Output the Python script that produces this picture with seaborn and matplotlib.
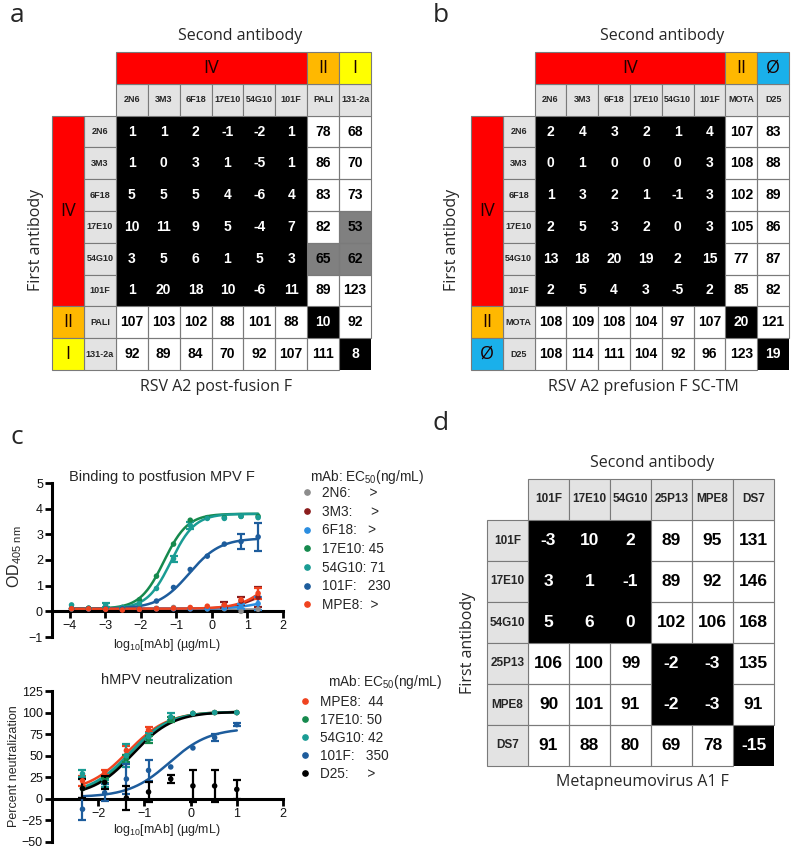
import numpy as np
import pandas as pd
import seaborn as sns
import matplotlib.pyplot as plt
from matplotlib.colors import ListedColormap, BoundaryNorm
from matplotlib.patches import Rectangle
from matplotlib.lines import Line2D

# ---------------- data ----------------
# a: competition on RSV A2 post-fusion F (% binding of second antibody)
a_abs = ['2N6', '3M3', '6F18', '17E10', '54G10', '101F', 'PALI', '131-2a']
a_vals = [[1, 1, 2, -1, -2, 1, 78, 68],
          [1, 0, 3, 1, -5, 1, 86, 70],
          [5, 5, 5, 4, -6, 4, 83, 73],
          [10, 11, 9, 5, -4, 7, 82, 53],
          [3, 5, 6, 1, 5, 3, 65, 62],
          [1, 20, 18, 10, -6, 11, 89, 123],
          [107, 103, 102, 88, 101, 88, 10, 92],
          [92, 89, 84, 70, 92, 107, 111, 8]]
a_sites = [('IV', 0, 6, '#ff0000'), ('II', 6, 7, '#ffb800'), ('I', 7, 8, '#ffff00')]

# b: competition on RSV A2 prefusion F SC-TM
b_abs = ['2N6', '3M3', '6F18', '17E10', '54G10', '101F', 'MOTA', 'D25']
b_vals = [[2, 4, 3, 2, 1, 4, 107, 83],
          [0, 1, 0, 0, 0, 3, 108, 88],
          [1, 3, 2, 1, -1, 3, 102, 89],
          [2, 5, 3, 2, 0, 3, 105, 86],
          [13, 18, 20, 19, 2, 15, 77, 87],
          [2, 5, 4, 3, -5, 2, 85, 82],
          [108, 109, 108, 104, 97, 107, 20, 121],
          [108, 114, 111, 104, 92, 96, 123, 19]]
b_sites = [('IV', 0, 6, '#ff0000'), ('II', 6, 7, '#ffb800'), ('Ø', 7, 8, '#1ab0ea')]

# d: competition on metapneumovirus A1 F
d_abs = ['101F', '17E10', '54G10', '25P13', 'MPE8', 'DS7']
d_vals = [[-3, 10, 2, 89, 95, 131],
          [3, 1, -1, 89, 92, 146],
          [5, 6, 0, 102, 106, 168],
          [106, 100, 99, -2, -3, 135],
          [90, 101, 91, -2, -3, 91],
          [91, 88, 80, 69, 78, -15]]

# c (top): binding to postfusion MPV F, OD405
od_logc = [-3.95, -3.47, -2.99, -2.52, -2.04, -1.56, -1.08, -0.61, -0.13, 0.35, 0.82, 1.30]
od_2n6 = [0.12, 0.12, 0.10, 0.10, 0.10, 0.12, 0.15, 0.10, 0.10, 0.10, 0.00, 0.08]
od_3m3 = [0.10, 0.10, 0.10, 0.08, 0.08, 0.10, 0.10, 0.10, 0.12, 0.25, 0.40, 0.55]
od_6f18 = [0.10, 0.10, 0.10, 0.08, 0.08, 0.10, 0.10, 0.10, 0.10, 0.12, 0.18, 0.30]
od_17e10 = [0.10, 0.12, 0.12, 0.15, 0.45, 1.37, 2.62, 3.55, 3.65, 3.65, 3.70, 3.70]
od_54g10 = [0.25, 0.12, 0.25, 0.15, 0.30, 0.89, 2.05, 3.35, 3.62, 3.62, 3.70, 3.65]
od_101f = [0.10, 0.10, 0.10, 0.10, 0.10, 0.40, 0.93, 1.63, 2.15, 2.62, 2.72, 2.90]
od_mpe8 = [0.10, 0.10, 0.08, 0.05, 0.08, 0.10, 0.12, 0.15, 0.20, 0.25, 0.45, 0.70]
od_err_3m3 = [0, 0, 0, 0, 0, 0, 0, 0, 0, 0.12, 0.15, 0.40]
od_err_6f18 = [0, 0, 0, 0, 0, 0, 0, 0, 0, 0, 0.10, 0.25]
od_err_54g10 = [0, 0, 0.08, 0, 0, 0, 0.12, 0.15, 0, 0, 0, 0]
od_err_101f = [0, 0, 0, 0, 0, 0, 0, 0, 0, 0, 0.30, 0.55]
od_err_mpe8 = [0, 0, 0, 0, 0, 0, 0, 0, 0, 0, 0, 0.20]
bind_mabs = ['2N6', '3M3', '6F18', '17E10', '54G10', '101F', 'MPE8']
bind_ec50 = ['>', '>', '>', '45', '71', '230', '>']
# four-parameter logistic fits: bottom, top, logEC50, hill
bind_bottom = [0.10, 0.10, 0.10, 0.10, 0.10, 0.10, 0.10]
bind_top = [0.10, 1.00, 0.60, 3.80, 3.80, 2.85, 2.50]
bind_logec50 = [0.0, 1.30, 1.50, -1.35, -1.15, -0.64, 1.80]
bind_hill = [1.0, 1.2, 1.0, 1.3, 1.3, 1.0, 1.0]

# c (bottom): hMPV neutralization, %
neut_logc = [-2.34, -1.86, -1.39, -0.91, -0.43, 0.05, 0.52, 1.00]
neut_mpe8 = [21, 31, 56, 80, 93, 99, 100, 100]
neut_17e10 = [12, 21, 47, 69, 92, 99, 100, 100]
neut_54g10 = [29, 18, 50, 72, 95, 99, 100, 100]
neut_101f = [-12, 7, 23, 33, 37, 59, 71, 86]
neut_d25 = [12, 19, 1, 8, 23, 15, 15, 11]
neut_err_mpe8 = [6, 3, 5, 3, 0, 0, 0, 0]
neut_err_17e10 = [0, 3, 4, 4, 3, 0, 0, 0]
neut_err_54g10 = [4, 4, 13, 4, 4, 0, 0, 0]
neut_err_101f = [13, 10, 17, 12, 0, 0, 4, 2]
neut_err_d25 = [11, 8, 14, 12, 5, 19, 19, 11]
neut_mabs = ['MPE8', '17E10', '54G10', '101F', 'D25']
neut_ec50 = ['44', '50', '42', '350', '>']
neut_bottom = [8, 5, 5, 2, 3]
neut_top = [101, 101, 101, 82, 101]
neut_logec50 = [-1.36, -1.30, -1.32, -0.46, -1.25]
neut_hill = [1.0, 1.05, 1.0, 1.0, 1.0]

mab_colors = {'2N6': '#8c8c8c', '3M3': '#8b1c1c', '6F18': '#2a8de0', '17E10': '#15894d',
              '54G10': '#1a9c94', '101F': '#1d5c9c', 'MPE8': '#f0431f', 'D25': '#000000'}

# ---------------- style ----------------
sns.set_theme(style='ticks')
plt.rcParams['font.family'] = ['Liberation Sans', 'DejaVu Sans']
plt.rcParams['mathtext.fontset'] = 'custom'
plt.rcParams['mathtext.rm'] = 'Liberation Sans'
plt.rcParams['mathtext.it'] = 'Liberation Sans:italic'

W, H = 792, 849
fig = plt.figure(figsize=(W / 100, H / 100), dpi=100)
fig.patch.set_facecolor('white')

HEAD = '#e3e3e3'
EDGE = '#7a7a7a'
HEADFONT = ['Open Sans', 'DejaVu Sans']
comp_cmap = ListedColormap(['#000000', '#808080', '#ffffff'])
comp_norm = BoundaryNorm([-1000, 33.5, 66.5, 1000], 3)


def px_axes(x0, y0, x1, y1):
    return fig.add_axes([x0 / W, 1 - y1 / H, (x1 - x0) / W, (y1 - y0) / H])


def fig_text(x, y, s, **kw):
    fig.text(x / W, 1 - y / H, s, **kw)


def draw_matrix(ax, abs_names, vals, sites, num_size, lab_size):
    df = pd.DataFrame(vals, index=abs_names, columns=abs_names)
    sns.heatmap(df, ax=ax, cmap=comp_cmap, norm=comp_norm, cbar=False, annot=True, fmt='d',
                annot_kws=dict(fontsize=num_size, fontweight='bold', family='Liberation Sans'),
                xticklabels=False, yticklabels=False, linewidths=0)
    nr, nc = df.shape
    for t in ax.texts:
        t.set_color('white' if int(t.get_text()) < 33.5 else 'black')
    for i in range(nr):
        for j in range(nc):
            if df.iat[i, j] >= 33.5:
                ax.add_patch(Rectangle((j, i), 1, 1, fill=False, ec=EDGE, lw=0.8, clip_on=False))
    for k, name in enumerate(abs_names):
        ax.add_patch(Rectangle((k, -1), 1, 1, fc=HEAD, ec=EDGE, lw=0.8, clip_on=False))
        ax.add_patch(Rectangle((-1, k), 1, 1, fc=HEAD, ec=EDGE, lw=0.8, clip_on=False))
        ax.text(k + 0.5, -0.5, name, ha='center', va='center', fontsize=lab_size, fontweight='bold')
        ax.text(-0.5, k + 0.5, name, ha='center', va='center', fontsize=lab_size, fontweight='bold')
    lo = -1
    if sites is not None:
        lo = -2
        for name, s, e, color in sites:
            ax.add_patch(Rectangle((s, -2), e - s, 1, fc=color, ec=EDGE, lw=0.8, clip_on=False))
            ax.add_patch(Rectangle((-2, s), 1, e - s, fc=color, ec=EDGE, lw=0.8, clip_on=False))
            ax.text((s + e) / 2, -1.5, name, ha='center', va='center', fontsize=13,
                    family=HEADFONT, color='#1a0000')
            ax.text(-1.5, (s + e) / 2, name, ha='center', va='center', fontsize=13,
                    family=HEADFONT, color='#1a0000')
    ax.set_xlim(lo, nc)
    ax.set_ylim(nr, lo)
    ax.axis('off')


def logistic(x, bottom, top, logec, hill):
    return bottom + (top - bottom) / (1 + 10 ** ((logec - x) * hill))


def prism_axes(ax, xlim, ylim, xticks, yticks):
    ax.set_xlim(*xlim)
    ax.set_ylim(*ylim)
    for s in ['top', 'right']:
        ax.spines[s].set_visible(False)
    ax.spines['bottom'].set_position(('data', 0))
    for s in ['left', 'bottom']:
        ax.spines[s].set_linewidth(2.2)
        ax.spines[s].set_color('black')
    ax.set_xticks(xticks)
    ax.set_yticks(yticks)
    ax.tick_params(width=2, length=5, color='black', labelsize=9, pad=1.5, labelcolor='#111111')
    ax.set_xlabel('')
    ax.set_ylabel('')


def ec50_label(name, ec):
    widths = {'M': .833, 'N': .722, 'E': .667, 'F': .611, 'G': .778, 'P': .667, 'D': .722, ':': .278}
    w = sum(widths.get(ch, .556) for ch in name + ':')
    n = max(1, round((3.5 - w) / 0.278))
    return name + ':' + ' ' * n + ec


def dose_panel(ax, logc, series, errs, mabs, fits, xr):
    pts = pd.DataFrame({'logc': np.tile(logc, len(mabs)),
                        'val': np.concatenate([series[m] for m in mabs]),
                        'mab': np.repeat(mabs, len(logc))})
    xs = np.linspace(xr[0], xr[1], 200)
    curves = pd.DataFrame({'logc': np.tile(xs, len(mabs)),
                           'val': np.concatenate([logistic(xs, *fits[m]) for m in mabs]),
                           'mab': np.repeat(mabs, len(xs))})
    sns.lineplot(data=curves, x='logc', y='val', hue='mab', hue_order=mabs, palette=mab_colors,
                 legend=False, ax=ax, lw=1.8)
    for m in mabs:
        if m in errs:
            e = np.array(errs[m], dtype=float)
            keep = e > 0
            ax.errorbar(np.array(logc)[keep], np.array(series[m])[keep], yerr=e[keep], fmt='none',
                        ecolor=mab_colors[m], elinewidth=1.6, capsize=3.2, capthick=1.6, zorder=3)
    sns.scatterplot(data=pts, x='logc', y='val', hue='mab', hue_order=mabs, palette=mab_colors,
                    s=16, edgecolor='none', legend=False, ax=ax, zorder=4)


def dose_legend(ax, mabs, ecs, x, y, spacing):
    handles = [Line2D([], [], marker='o', ls='', color=mab_colors[m], markersize=3.8) for m in mabs]
    labels = [ec50_label(m, e) for m, e in zip(mabs, ecs)]
    ax.legend(handles, labels, loc='upper left', bbox_to_anchor=(x / W, 1 - y / H),
              bbox_transform=fig.transFigure, frameon=False, fontsize=9.8, handlelength=0.8,
              handletextpad=0.65, labelspacing=spacing, borderpad=0, borderaxespad=0)


# ---------------- panel a ----------------
ax_a = px_axes(52, 52, 371, 370)
draw_matrix(ax_a, a_abs, a_vals, a_sites, 10, 6.5)
fig_text(240, 36, 'Second antibody', ha='center', va='center', fontsize=11.5, family=HEADFONT)
fig_text(216, 387, 'RSV A2 post-fusion F', ha='center', va='center', fontsize=11.5, family=HEADFONT)
fig_text(36, 240, 'First antibody', ha='center', va='center', rotation=90, fontsize=11.5, family=HEADFONT)
fig_text(17, 16, 'a', ha='center', va='center', fontsize=19, family=HEADFONT)

# ---------------- panel b ----------------
ax_b = px_axes(471, 52, 789, 370)
draw_matrix(ax_b, b_abs, b_vals, b_sites, 10, 6.5)
fig_text(662, 36, 'Second antibody', ha='center', va='center', fontsize=11.5, family=HEADFONT)
fig_text(643, 387, 'RSV A2 prefusion F SC-TM', ha='center', va='center', fontsize=11.5, family=HEADFONT)
fig_text(452, 240, 'First antibody', ha='center', va='center', rotation=90, fontsize=11.5, family=HEADFONT)
fig_text(441, 15, 'b', ha='center', va='center', fontsize=19, family=HEADFONT)

# ---------------- panel d ----------------
ax_d = px_axes(487, 479, 774, 766)
draw_matrix(ax_d, d_abs, d_vals, None, 12.5, 8.5)
fig_text(652, 463, 'Second antibody', ha='center', va='center', fontsize=11.5, family=HEADFONT)
fig_text(642, 782, 'Metapneumovirus A1 F', ha='center', va='center', fontsize=11.5, family=HEADFONT)
fig_text(468, 643, 'First antibody', ha='center', va='center', rotation=90, fontsize=11.5, family=HEADFONT)
fig_text(441, 423, 'd', ha='center', va='center', fontsize=19, family=HEADFONT)

# ---------------- panel c ----------------
fig_text(17, 438, 'c', ha='center', va='center', fontsize=19, family=HEADFONT)

ax_c1 = px_axes(52, 483, 283, 637)
bind_series = dict(zip(bind_mabs, [od_2n6, od_3m3, od_6f18, od_17e10, od_54g10, od_101f, od_mpe8]))
bind_errs = {'3M3': od_err_3m3, '6F18': od_err_6f18, '54G10': od_err_54g10,
             '101F': od_err_101f, 'MPE8': od_err_mpe8}
bind_fits = {m: (b, t, l, h) for m, b, t, l, h in
             zip(bind_mabs, bind_bottom, bind_top, bind_logec50, bind_hill)}
dose_panel(ax_c1, od_logc, bind_series, bind_errs, bind_mabs, bind_fits, (od_logc[0], od_logc[-1]))
prism_axes(ax_c1, (-4.5, 2), (-1, 5), [-4, -3, -2, -1, 0, 1, 2], [-1, 0, 1, 2, 3, 4, 5])
fig_text(162, 477, 'Binding to postfusion MPV F', ha='center', va='center', fontsize=10.5)
fig_text(167, 645, 'log$_{10}$[mAb] (µg/mL)', ha='center', va='center', fontsize=9)
fig_text(15, 557, 'OD$_{\\mathregular{405\\ nm}}$', ha='center', va='center', rotation=90, fontsize=11.5)
fig_text(310, 477, 'mAb: EC$_{50}$(ng/mL)', ha='left', va='center', fontsize=9.8)
dose_legend(ax_c1, bind_mabs, bind_ec50, 302, 486, 0.345)

ax_c2 = px_axes(52, 691, 283, 842)
neut_series = dict(zip(neut_mabs, [neut_mpe8, neut_17e10, neut_54g10, neut_101f, neut_d25]))
neut_errs = dict(zip(neut_mabs, [neut_err_mpe8, neut_err_17e10, neut_err_54g10,
                                 neut_err_101f, neut_err_d25]))
neut_fits = {m: (b, t, l, h) for m, b, t, l, h in
             zip(neut_mabs, neut_bottom, neut_top, neut_logec50, neut_hill)}
dose_panel(ax_c2, neut_logc, neut_series, neut_errs, neut_mabs, neut_fits, (neut_logc[0], neut_logc[-1]))
prism_axes(ax_c2, (-3, 2), (-50, 125), [-2, -1, 0, 1, 2], list(range(-50, 126, 25)))
fig_text(167, 680, 'hMPV neutralization', ha='center', va='center', fontsize=10.5)
fig_text(167, 830, 'log$_{10}$[mAb] (µg/mL)', ha='center', va='center', fontsize=9)
fig_text(14, 766, 'Percent neutralization', ha='center', va='center', rotation=90, fontsize=9)
fig_text(328, 682, 'mAb: EC$_{50}$(ng/mL)', ha='left', va='center', fontsize=9.8)
dose_legend(ax_c2, neut_mabs, neut_ec50, 300, 695, 0.29)

fig.savefig('out.png', dpi=100, facecolor='white')
